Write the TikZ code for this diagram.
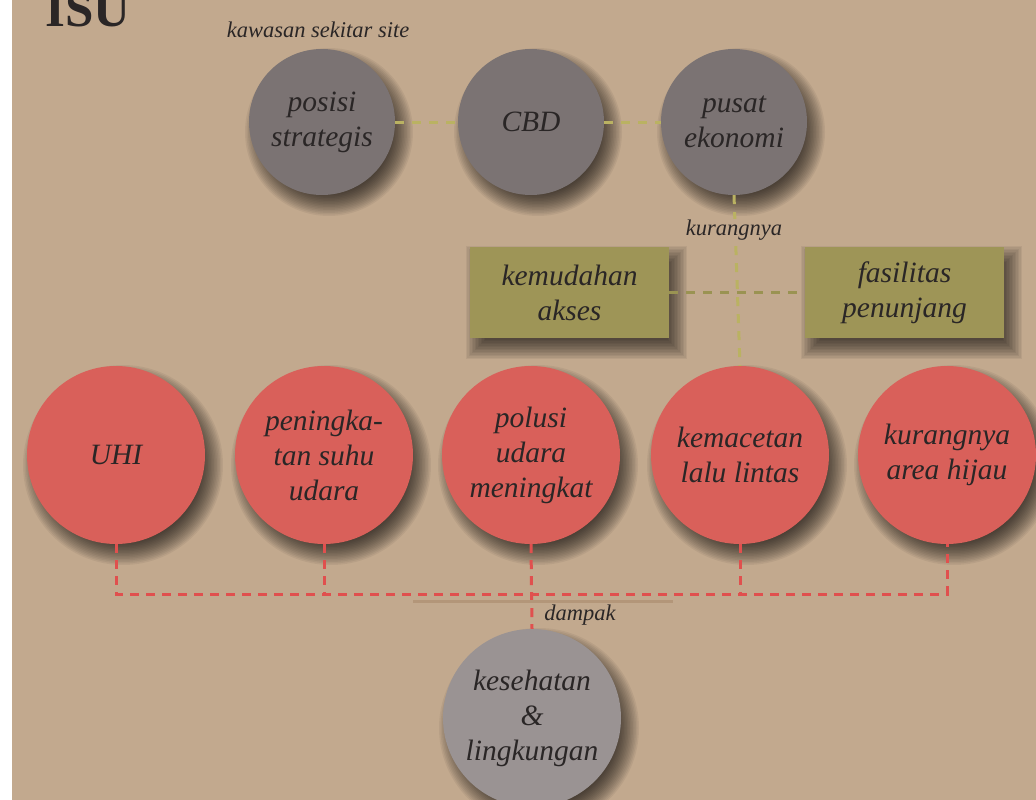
\documentclass[tikz,border=0pt]{standalone}
\usepackage{fontspec}
\setmainfont{Liberation Serif}
\usetikzlibrary{backgrounds}

\definecolor{bgtan}{HTML}{C2A98E}
\definecolor{topgray}{HTML}{7B7373}
\definecolor{lowgray}{HTML}{9A9393}
\definecolor{issuered}{HTML}{D9605A}
\definecolor{boxolive}{HTML}{9E9557}
\definecolor{olivedash}{HTML}{BAB262}
\definecolor{olivedark}{HTML}{9A9352}
\definecolor{reddash}{HTML}{E0504E}
\definecolor{barbrown}{HTML}{B39679}
\definecolor{inktext}{HTML}{2A2626}

\begin{document}
\begin{tikzpicture}[x=1pt,y=-1pt,
    txt/.style={text=inktext,font=\itshape\fontsize{29.5}{35}\selectfont,align=center},
    topcirc/.style={txt,circle,fill=topgray,minimum size=146pt,inner sep=0pt},
    redcirc/.style={txt,circle,fill=issuered,minimum size=178pt,inner sep=0pt},
    lowcirc/.style={txt,circle,fill=lowgray,minimum size=178pt,inner sep=0pt},
    oliverect/.style={txt,rectangle,fill=boxolive,minimum width=199pt,minimum height=91pt,inner sep=0pt},
    olivelink/.style={olivedash,line width=3pt,dash pattern=on 9pt off 8pt},
    redlink/.style={reddash,line width=3pt,dash pattern=on 9pt off 7pt},
    shadowbit/.style={black,opacity=0.055},
    tag/.style={text=inktext,font=\itshape\fontsize{22.5}{26}\selectfont}]
  \useasboundingbox (0,0) rectangle (1036,800);

  % title
  \node[anchor=base west,inner sep=0pt,text=inktext,font=\bfseries\fontsize{51}{51}\selectfont] (isu) at (45,27) {ISU};
  \node[tag] (kawasan) at (318,30) {kawasan sekitar site};

  % kawasan sekitar site
  \node[topcirc] (posisi) at (322,122) {posisi\\strategis};
  \node[topcirc] (cbd) at (531,122) {CBD};
  \node[topcirc] (pusat) at (734,122) {pusat\\ekonomi};

  % kurangnya
  \node[oliverect] (akses) at (569.5,292.5) {kemudahan\\akses};
  \node[oliverect] (fasilitas) at (904.5,292.5) {fasilitas\\penunjang};

  % isu
  \node[redcirc] (uhi) at (116,455) {UHI};
  \node[redcirc] (suhu) at (324,455) {peningka-\\tan suhu\\udara};
  \node[redcirc] (polusi) at (531,455) {polusi\\udara\\meningkat};
  \node[redcirc] (macet) at (740,455) {kemacetan\\lalu lintas};
  \node[redcirc] (hijau) at (947,455) {kurangnya\\area hijau};

  % dampak
  \node[lowcirc] (sehat) at (532,718) {kesehatan\\\&\\lingkungan};

  % soft shadows
  \begin{scope}[on background layer]
    \fill[bgtan] (12,0) rectangle (1036,800);
    \foreach \n/\r in {posisi/73,cbd/73,pusat/73,uhi/89,suhu/89,polusi/89,macet/89,hijau/89,sehat/89}
      \foreach \k in {0,...,15}
        \fill[shadowbit] ([shift={(7,10)}]\n.center) circle [radius={(\r+11-1.5*\k)*1pt}];
    \foreach \n in {akses,fasilitas}
      \foreach \k in {0,...,15}
        \fill[shadowbit] ([shift={(7-11+1.5*\k,10-11+1.5*\k)}]\n.north west) rectangle ([shift={(7+11-1.5*\k,10+11-1.5*\k)}]\n.south east);
  \end{scope}

  \coordinate (bus) at (0,594);

  \draw[olivelink] (posisi.east) -- (cbd.west);
  \draw[olivelink] (cbd.east) -- (pusat.west);
  \draw[olivelink] (pusat.south) -- (macet.north);
  \draw[olivelink,olivedark] (akses.east) -- (fasilitas.west);
  \node[tag,fill=bgtan,inner sep=1pt] (kurang) at (734,230) {kurangnya};

  \draw[redlink] (uhi.south) |- (hijau.south |- bus) -- (hijau.south);
  \draw[redlink] (suhu.south) -- (suhu.south |- bus);
  \draw[redlink] (macet.south) -- (macet.south |- bus);
  \draw[redlink] (polusi.south) -- (sehat.north);

  \draw[line width=3pt,barbrown] (413,601) -- (673,601);
  \node[tag] (dampak) at (580,615) {dampak};
\end{tikzpicture}
\end{document}
